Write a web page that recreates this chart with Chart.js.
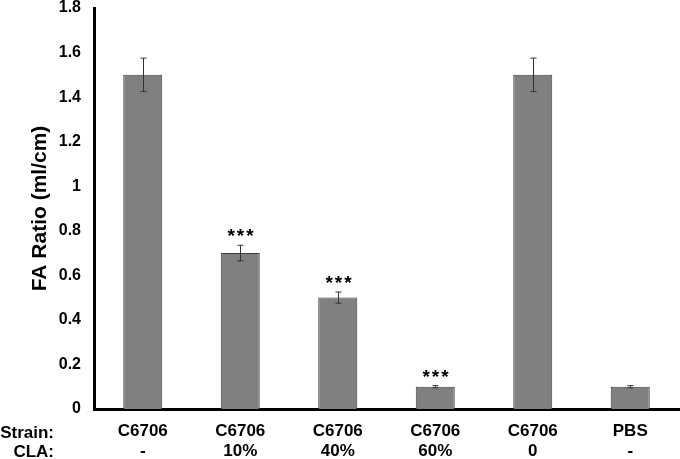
<!DOCTYPE html>
<html>
<head>
<meta charset="utf-8">
<script src="https://cdn.jsdelivr.net/npm/chart.js@4.4.1/dist/chart.umd.min.js"></script>
<style>
  html, body { margin: 0; padding: 0; background: #fff; }
  #wrap { width: 680px; height: 459px; }
</style>
</head>
<body>
<div id="wrap"><canvas id="chart"></canvas></div>
<script>
// data
const strains = ['C6706', 'C6706', 'C6706', 'C6706', 'C6706', 'PBS'];
const cla = ['-', '10%', '40%', '60%', '0', '-'];
const faRatio = [1.5, 0.7, 0.5, 0.1, 1.5, 0.1];
const errors = [0.075, 0.035, 0.025, 0.005, 0.075, 0.005];
const stars = ['', '***', '***', '***', '', ''];
const rowLabels = ['Strain:', 'CLA:'];

const FONT = '"Liberation Sans", Arial, sans-serif';

// error bars + significance stars
const errorBars = {
  id: 'errorBars',
  afterDatasetsDraw(chart) {
    const ctx = chart.ctx;
    const x = chart.scales.x, y = chart.scales.y;
    ctx.save();
    faRatio.forEach((v, i) => {
      const cx = Math.round(x.getPixelForValue(i)) + 0.5;
      const top = y.getPixelForValue(v + errors[i]);
      const bot = y.getPixelForValue(v - errors[i]);
      ctx.strokeStyle = '#333';
      ctx.lineWidth = 1;
      ctx.beginPath();
      ctx.moveTo(cx, top); ctx.lineTo(cx, bot);
      ctx.moveTo(cx - 3, top); ctx.lineTo(cx + 3, top);
      ctx.moveTo(cx - 3, bot); ctx.lineTo(cx + 3, bot);
      ctx.stroke();
      if (stars[i]) {
        ctx.fillStyle = '#000';
        ctx.font = 'bold 19px ' + FONT;
        ctx.letterSpacing = '2px';
        ctx.textAlign = 'center';
        ctx.textBaseline = 'alphabetic';
        ctx.fillText(stars[i], cx + 1, top - 3);
        ctx.letterSpacing = '0px';
      }
    });
    ctx.restore();
  }
};

// "Strain:" / "CLA:" row headers on the left
const rowHeaders = {
  id: 'rowHeaders',
  afterDraw(chart) {
    const ctx = chart.ctx;
    ctx.save();
    ctx.fillStyle = '#000';
    ctx.font = 'bold 17px ' + FONT;
    ctx.textAlign = 'right';
    ctx.textBaseline = 'middle';
    ctx.fillText(rowLabels[0], 54, 433);
    ctx.fillText(rowLabels[1], 54, 452);
    ctx.restore();
  }
};

new Chart(document.getElementById('chart'), {
  type: 'bar',
  data: {
    labels: strains.map((s, i) => [s, cla[i]]),
    datasets: [{
      data: faRatio,
      backgroundColor: '#808080',
      borderColor: '#404040',
      borderWidth: 1,
      categoryPercentage: 1,
      barPercentage: 0.4
    }]
  },
  options: {
    responsive: true,
    maintainAspectRatio: false,
    animation: false,
    layout: { padding: { top: 8, right: 1, left: 0, bottom: 0 } },
    plugins: {
      legend: { display: false },
      tooltip: { enabled: false }
    },
    scales: {
      x: {
        grid: { display: false, drawTicks: false },
        border: { color: '#000', width: 3 },
        ticks: {
          color: '#000',
          font: { family: FONT, size: 17, weight: 'bold' },
          padding: 12,
          maxRotation: 0
        },
        afterFit(scale) {
          scale.height = 50;
          scale.paddingLeft = 0;
          scale.paddingRight = 0;
        }
      },
      y: {
        min: 0,
        max: 1.8,
        grid: { display: false, drawTicks: false },
        border: { color: '#000', width: 3 },
        ticks: {
          stepSize: 0.2,
          color: '#000',
          font: { family: FONT, size: 16, weight: 'bold' },
          padding: 13,
          callback: v => Math.round(v * 10) / 10
        },
        title: {
          display: true,
          text: 'FA Ratio (ml/cm)',
          color: '#000',
          font: { family: FONT, size: 21, weight: 'bold' },
          padding: { top: 28, bottom: 0 }
        },
        afterFit(scale) {
          scale.width = 94;
          scale.paddingTop = 0;
          scale.paddingBottom = 0;
        }
      }
    }
  },
  plugins: [errorBars, rowHeaders]
});
</script>
</body>
</html>
